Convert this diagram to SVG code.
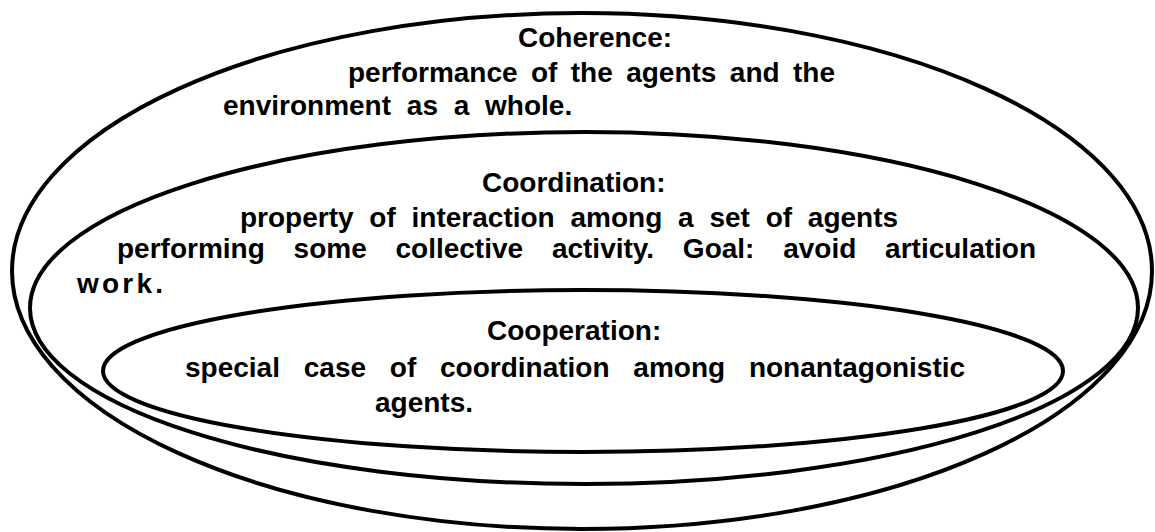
<svg xmlns="http://www.w3.org/2000/svg" width="1155" height="532" viewBox="0 0 1155 532">
  <style>
    .ring { fill: none; stroke: #000; stroke-width: 4; }
    .t { font-family: "Liberation Sans", Arial, Helvetica, sans-serif; font-weight: bold; font-size: 28px; fill: #000; }
  </style>
  <rect width="1155" height="532" fill="#fff"/>
  <g id="coherence">
    <ellipse class="ring" cx="582" cy="271" rx="570" ry="258"/>
    <text class="t" x="518" y="47">Coherence:</text>
    <text class="t" x="348" y="82" word-spacing="5.6">performance of the agents and the</text>
    <text class="t" x="223" y="115" word-spacing="8">environment as a whole.</text>
  </g>
  <g id="coordination">
    <ellipse class="ring" cx="584" cy="308" rx="554" ry="176"/>
    <text class="t" x="482" y="192">Coordination:</text>
    <text class="t" x="240" y="227" word-spacing="8">property of interaction among a set of agents</text>
    <text class="t" x="117" y="258" word-spacing="21">performing some collective activity. Goal: avoid articulation</text>
    <text class="t" x="77" y="293" letter-spacing="3.2">work.</text>
  </g>
  <g id="cooperation">
    <ellipse class="ring" cx="583" cy="371" rx="480" ry="81"/>
    <text class="t" x="487" y="340">Cooperation:</text>
    <text class="t" x="185" y="377" word-spacing="16">special case of coordination among nonantagonistic</text>
    <text class="t" x="375" y="412">agents.</text>
  </g>
  <g id="connectors"/>
</svg>
